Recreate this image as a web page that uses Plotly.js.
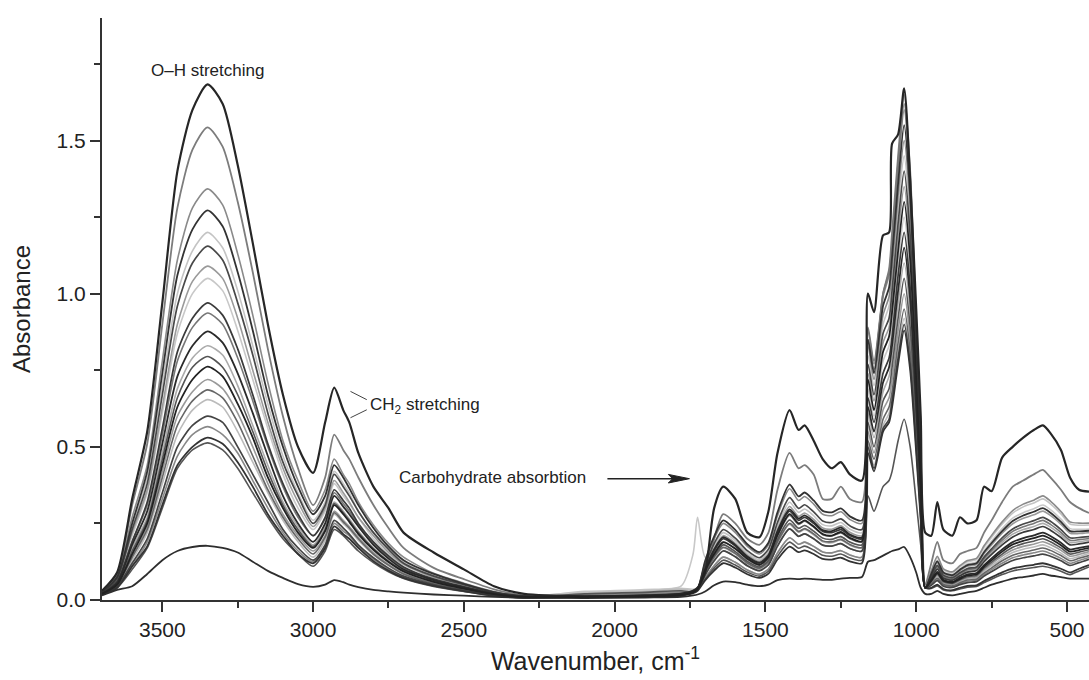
<!DOCTYPE html>
<html>
<head>
<meta charset="utf-8">
<script src="https://cdn.plot.ly/plotly-3.0.1.min.js"></script>
<style>html,body{margin:0;padding:0;background:#fff;}#chart{width:1089px;height:680px;}</style>
</head>
<body>
<div id="chart"></div>
<script>
// Wavenumber grid (cm-1)
const wavenumber = [3700,3650,3600,3550,3500,3450,3400,3350,3300,3250,3200,3150,3100,3050,3000,
  2960,2930,2900,2880,2850,2800,2750,2700,2600,2500,2400,2300,
  2100,1900,1780,
  1740,1725,1700,1670,1640,1600,1560,1520,1490,1460,1420,1390,1370,1340,1310,1280,1250,1220,1180,
  1160,1140,1110,1090,1080,1060,1040,1020,1000,985,970,950,930,910,880,855,830,800,775,750,715,680,645,610,580,555,520,490,460,427];

// Absorbance spectra
const s01 = [0.03,0.09,0.33,0.55,0.97,1.40,1.60,1.683,1.62,1.42,1.165,0.90,0.67,0.50,0.415,
  0.58,0.693,0.62,0.58,0.48,0.37,0.30,0.22,0.155,0.10,0.045,0.02,
  0.012,0.015,0.02,
  0.03,0.04,0.09,0.30,0.37,0.33,0.22,0.205,0.29,0.48,0.62,0.555,0.57,0.52,0.46,0.43,0.45,0.41,0.39,
  1.00,0.94,1.19,1.20,1.49,1.52,1.67,1.37,0.95,0.60,0.22,0.21,0.32,0.23,0.21,0.27,0.25,0.26,0.37,0.355,0.465,0.50,0.53,0.555,0.57,0.545,0.49,0.40,0.36,0.354];
const s02 = [0.03,0.085,0.31,0.51,0.90,1.28,1.47,1.543,1.48,1.30,1.07,0.82,0.60,0.43,0.31,
  0.40,0.54,0.49,0.46,0.40,0.31,0.235,0.17,0.105,0.068,0.035,0.015,
  0.012,0.016,0.022,
  0.03,0.04,0.08,0.20,0.28,0.25,0.20,0.18,0.22,0.36,0.48,0.43,0.44,0.41,0.33,0.33,0.37,0.33,0.32,
  0.85,0.75,1.00,1.08,1.20,1.45,1.65,1.40,0.90,0.50,0.05,0.12,0.19,0.13,0.12,0.15,0.16,0.17,0.22,0.26,0.32,0.37,0.39,0.41,0.425,0.40,0.36,0.32,0.30,0.284];
const s03 = [0.025,0.08,0.27,0.44,0.78,1.11,1.28,1.342,1.29,1.13,0.93,0.71,0.52,0.39,0.29,
  0.36,0.46,0.41,0.38,0.32,0.245,0.185,0.14,0.087,0.055,0.028,0.014,
  0.014,0.018,0.025,
  0.025,0.035,0.123,0.20,0.25,0.22,0.175,0.15,0.18,0.275,0.363,0.325,0.338,0.313,0.28,0.275,0.288,0.263,0.25,
  0.88,0.77,0.99,1.06,1.15,1.41,1.60,1.36,0.88,0.48,0.04,0.095,0.143,0.102,0.092,0.112,0.129,0.136,0.177,0.211,0.255,0.292,0.313,0.326,0.34,0.323,0.289,0.255,0.251,0.251];
const s04 = [0.025,0.075,0.25,0.42,0.74,1.06,1.21,1.272,1.22,1.07,0.88,0.67,0.50,0.37,0.28,
  0.34,0.44,0.40,0.365,0.31,0.235,0.175,0.13,0.085,0.053,0.026,0.013,
  0.01,0.013,0.018,
  0.025,0.035,0.127,0.208,0.26,0.229,0.182,0.156,0.187,0.286,0.377,0.338,0.351,0.325,0.291,0.286,0.299,0.273,0.26,
  0.85,0.74,0.96,1.02,1.12,1.36,1.55,1.32,0.85,0.47,0.04,0.085,0.126,0.09,0.081,0.099,0.114,0.12,0.156,0.186,0.225,0.258,0.276,0.288,0.30,0.285,0.255,0.225,0.224,0.226];
const s05 = [0.025,0.075,0.24,0.40,0.70,1.00,1.14,1.20,1.15,1.01,0.83,0.64,0.47,0.35,0.26,
  0.32,0.42,0.38,0.35,0.29,0.22,0.17,0.125,0.08,0.05,0.025,0.013,
  0.025,0.03,0.038,
  0.035,0.04,0.109,0.176,0.22,0.194,0.154,0.132,0.158,0.242,0.319,0.286,0.297,0.275,0.246,0.242,0.253,0.231,0.22,
  0.80,0.70,0.90,0.96,1.04,1.28,1.45,1.23,0.80,0.44,0.04,0.093,0.139,0.099,0.089,0.109,0.125,0.132,0.172,0.205,0.248,0.284,0.304,0.317,0.33,0.314,0.281,0.248,0.244,0.245];
const s06 = [0.02,0.07,0.23,0.38,0.67,0.96,1.10,1.155,1.11,0.97,0.80,0.61,0.45,0.34,0.25,
  0.31,0.41,0.37,0.34,0.29,0.22,0.165,0.12,0.078,0.05,0.025,0.012,
  0.012,0.014,0.02,
  0.025,0.035,0.114,0.184,0.23,0.202,0.161,0.138,0.166,0.253,0.334,0.299,0.311,0.288,0.258,0.253,0.265,0.242,0.23,
  0.77,0.67,0.87,0.92,1.01,1.23,1.40,1.19,0.77,0.42,0.04,0.078,0.113,0.081,0.073,0.089,0.103,0.108,0.14,0.167,0.203,0.232,0.248,0.259,0.27,0.257,0.23,0.203,0.204,0.207];
const s07 = [0.02,0.07,0.22,0.36,0.63,0.90,1.04,1.09,1.05,0.92,0.75,0.58,0.43,0.32,0.24,
  0.30,0.39,0.35,0.32,0.27,0.21,0.156,0.117,0.074,0.047,0.023,0.012,
  0.015,0.018,0.024,
  0.025,0.035,0.105,0.168,0.21,0.185,0.147,0.126,0.151,0.231,0.305,0.273,0.284,0.263,0.235,0.231,0.242,0.221,0.21,
  0.74,0.65,0.84,0.89,0.97,1.19,1.35,1.15,0.74,0.41,0.04,0.083,0.122,0.087,0.078,0.096,0.11,0.116,0.151,0.18,0.218,0.249,0.267,0.278,0.29,0.276,0.247,0.218,0.217,0.22];
const s08 = [0.02,0.065,0.21,0.35,0.61,0.87,1.00,1.05,1.01,0.88,0.72,0.56,0.41,0.30,0.23,
  0.29,0.38,0.34,0.315,0.27,0.20,0.15,0.115,0.072,0.046,0.023,0.011,
  0.028,0.034,0.045,
  0.15,0.27,0.14,0.144,0.18,0.158,0.126,0.108,0.13,0.198,0.261,0.234,0.243,0.225,0.202,0.198,0.207,0.189,0.18,
  0.69,0.60,0.78,0.83,0.90,1.10,1.25,1.06,0.69,0.38,0.04,0.088,0.13,0.093,0.084,0.102,0.118,0.124,0.161,0.192,0.233,0.267,0.285,0.298,0.31,0.295,0.264,0.233,0.231,0.232];
const s09 = [0.02,0.06,0.19,0.32,0.56,0.81,0.92,0.97,0.93,0.82,0.67,0.51,0.38,0.28,0.21,
  0.27,0.36,0.325,0.30,0.25,0.19,0.144,0.108,0.068,0.043,0.022,0.011,
  0.01,0.012,0.016,
  0.025,0.035,0.10,0.16,0.20,0.176,0.14,0.12,0.144,0.22,0.29,0.26,0.27,0.25,0.224,0.22,0.23,0.21,0.20,
  0.66,0.58,0.74,0.79,0.86,1.06,1.20,1.02,0.66,0.36,0.04,0.07,0.101,0.072,0.065,0.079,0.091,0.096,0.125,0.149,0.18,0.206,0.221,0.23,0.24,0.228,0.204,0.18,0.183,0.189];
const s10 = [0.02,0.06,0.19,0.31,0.54,0.78,0.89,0.937,0.90,0.79,0.65,0.50,0.37,0.27,0.21,
  0.265,0.35,0.315,0.29,0.245,0.185,0.14,0.105,0.067,0.042,0.021,0.01,
  0.013,0.016,0.022,
  0.025,0.035,0.096,0.152,0.19,0.167,0.133,0.114,0.137,0.209,0.276,0.247,0.257,0.238,0.213,0.209,0.219,0.20,0.19,
  0.89,0.78,1.00,1.07,1.17,1.43,1.62,1.38,0.89,0.49,0.04,0.075,0.109,0.078,0.07,0.086,0.099,0.104,0.135,0.161,0.195,0.224,0.239,0.25,0.26,0.247,0.221,0.195,0.197,0.201];
const s11 = [0.02,0.055,0.18,0.29,0.51,0.73,0.83,0.877,0.84,0.74,0.61,0.47,0.34,0.25,0.19,
  0.25,0.34,0.305,0.28,0.24,0.18,0.135,0.10,0.065,0.041,0.02,0.01,
  0.01,0.012,0.016,
  0.025,0.035,0.10,0.165,0.205,0.18,0.142,0.122,0.146,0.225,0.296,0.266,0.276,0.255,0.228,0.225,0.236,0.214,0.204,
  0.63,0.55,0.71,0.76,0.83,1.01,1.15,0.98,0.63,0.35,0.04,0.065,0.092,0.066,0.059,0.073,0.084,0.088,0.114,0.136,0.165,0.189,0.202,0.211,0.22,0.209,0.187,0.165,0.17,0.176];
const s12 = [0.02,0.055,0.17,0.27,0.48,0.69,0.79,0.83,0.80,0.70,0.57,0.44,0.32,0.24,0.18,
  0.24,0.32,0.29,0.265,0.225,0.17,0.128,0.096,0.061,0.038,0.019,0.01,
  0.018,0.022,0.03,
  0.025,0.035,0.087,0.136,0.17,0.15,0.119,0.102,0.122,0.187,0.247,0.221,0.23,0.213,0.19,0.187,0.196,0.179,0.17,
  0.61,0.53,0.68,0.73,0.79,0.97,1.10,0.94,0.61,0.33,0.04,0.073,0.105,0.075,0.068,0.083,0.095,0.10,0.13,0.155,0.188,0.215,0.23,0.24,0.25,0.238,0.213,0.188,0.19,0.195];
const s13 = [0.02,0.05,0.16,0.26,0.46,0.66,0.76,0.795,0.76,0.67,0.55,0.42,0.31,0.23,0.175,
  0.23,0.315,0.285,0.26,0.22,0.167,0.126,0.095,0.06,0.038,0.019,0.01,
  0.011,0.013,0.018,
  0.025,0.035,0.091,0.144,0.18,0.158,0.126,0.108,0.13,0.198,0.261,0.234,0.243,0.225,0.202,0.198,0.207,0.189,0.18,
  0.58,0.50,0.65,0.69,0.76,0.92,1.05,0.89,0.58,0.32,0.04,0.06,0.084,0.06,0.054,0.066,0.076,0.08,0.104,0.124,0.15,0.172,0.184,0.192,0.20,0.19,0.17,0.15,0.156,0.164];
const s14 = [0.02,0.05,0.15,0.25,0.44,0.63,0.72,0.762,0.73,0.64,0.53,0.40,0.30,0.22,0.17,
  0.225,0.31,0.28,0.255,0.215,0.164,0.124,0.093,0.059,0.037,0.019,0.01,
  0.01,0.012,0.016,
  0.025,0.035,0.095,0.15,0.188,0.168,0.135,0.115,0.14,0.212,0.28,0.25,0.26,0.24,0.215,0.21,0.222,0.203,0.192,
  0.72,0.62,0.81,0.86,0.94,1.14,1.30,1.11,0.72,0.39,0.04,0.063,0.088,0.063,0.057,0.069,0.08,0.084,0.109,0.13,0.158,0.181,0.193,0.202,0.21,0.20,0.179,0.158,0.163,0.17];
const s15 = [0.02,0.05,0.14,0.24,0.42,0.60,0.68,0.72,0.69,0.61,0.50,0.38,0.28,0.21,0.16,
  0.21,0.29,0.26,0.24,0.205,0.155,0.116,0.087,0.055,0.035,0.017,0.009,
  0.015,0.018,0.024,
  0.025,0.035,0.082,0.128,0.16,0.141,0.112,0.096,0.115,0.176,0.232,0.208,0.216,0.20,0.179,0.176,0.184,0.168,0.16,
  0.55,0.48,0.62,0.66,0.72,0.88,1.00,0.85,0.55,0.30,0.04,0.058,0.08,0.057,0.051,0.063,0.072,0.076,0.099,0.118,0.143,0.163,0.175,0.182,0.19,0.181,0.162,0.143,0.149,0.158];
const s16 = [0.02,0.05,0.14,0.23,0.40,0.57,0.65,0.686,0.66,0.58,0.47,0.36,0.27,0.20,0.15,
  0.205,0.285,0.255,0.235,0.20,0.15,0.114,0.085,0.054,0.034,0.017,0.009,
  0.012,0.014,0.019,
  0.025,0.035,0.088,0.14,0.172,0.152,0.121,0.104,0.125,0.19,0.25,0.224,0.233,0.216,0.193,0.19,0.198,0.181,0.172,
  0.52,0.46,0.59,0.63,0.68,0.84,0.95,0.81,0.52,0.29,0.04,0.053,0.071,0.051,0.046,0.056,0.065,0.068,0.088,0.105,0.128,0.146,0.156,0.163,0.17,0.162,0.145,0.128,0.136,0.145];
const s17 = [0.02,0.045,0.13,0.22,0.38,0.54,0.62,0.654,0.63,0.55,0.45,0.35,0.26,0.19,0.14,
  0.195,0.28,0.25,0.23,0.195,0.148,0.112,0.084,0.053,0.034,0.017,0.008,
  0.022,0.027,0.035,
  0.03,0.038,0.073,0.112,0.14,0.123,0.098,0.084,0.101,0.154,0.203,0.182,0.189,0.175,0.157,0.154,0.161,0.147,0.14,
  0.51,0.44,0.57,0.61,0.66,0.81,0.92,0.78,0.51,0.28,0.04,0.055,0.076,0.054,0.049,0.059,0.068,0.072,0.094,0.112,0.135,0.155,0.166,0.173,0.18,0.171,0.153,0.135,0.142,0.152];
const s18 = [0.02,0.045,0.12,0.20,0.35,0.50,0.57,0.60,0.58,0.50,0.41,0.32,0.23,0.17,0.13,
  0.18,0.26,0.235,0.215,0.18,0.138,0.104,0.078,0.05,0.031,0.016,0.008,
  0.01,0.012,0.016,
  0.025,0.035,0.082,0.128,0.16,0.141,0.112,0.096,0.115,0.176,0.232,0.208,0.216,0.20,0.179,0.176,0.184,0.168,0.16,
  0.50,0.43,0.56,0.59,0.65,0.79,0.90,0.77,0.50,0.27,0.04,0.048,0.063,0.045,0.041,0.05,0.057,0.06,0.078,0.093,0.113,0.129,0.138,0.144,0.15,0.143,0.128,0.113,0.122,0.133];
const s19 = [0.02,0.04,0.11,0.19,0.33,0.47,0.54,0.566,0.54,0.48,0.39,0.30,0.22,0.16,0.125,
  0.175,0.25,0.225,0.21,0.175,0.133,0.10,0.075,0.048,0.03,0.015,0.008,
  0.016,0.02,0.026,
  0.025,0.035,0.073,0.112,0.14,0.123,0.098,0.084,0.101,0.154,0.203,0.182,0.189,0.175,0.157,0.154,0.161,0.147,0.14,
  0.83,0.72,0.93,0.99,1.08,1.32,1.50,1.28,0.83,0.45,0.04,0.05,0.067,0.048,0.043,0.053,0.061,0.064,0.083,0.099,0.12,0.138,0.147,0.154,0.16,0.152,0.136,0.12,0.129,0.139];
const s20 = [0.02,0.04,0.11,0.175,0.31,0.44,0.50,0.53,0.51,0.45,0.37,0.28,0.21,0.15,0.12,
  0.17,0.24,0.215,0.20,0.17,0.127,0.096,0.072,0.046,0.029,0.014,0.007,
  0.01,0.012,0.015,
  0.022,0.03,0.064,0.096,0.12,0.106,0.084,0.072,0.086,0.132,0.174,0.156,0.162,0.15,0.134,0.132,0.138,0.126,0.12,
  0.48,0.42,0.55,0.58,0.63,0.77,0.88,0.75,0.48,0.26,0.04,0.04,0.05,0.036,0.032,0.04,0.046,0.048,0.062,0.074,0.09,0.103,0.11,0.115,0.12,0.114,0.102,0.09,0.102,0.114];
const s21 = [0.02,0.04,0.10,0.17,0.30,0.43,0.49,0.513,0.49,0.43,0.35,0.27,0.20,0.15,0.11,
  0.16,0.23,0.21,0.19,0.16,0.122,0.092,0.07,0.044,0.028,0.014,0.007,
  0.02,0.025,0.03,
  0.025,0.035,0.068,0.104,0.13,0.114,0.091,0.078,0.094,0.143,0.189,0.169,0.176,0.163,0.146,0.143,0.15,0.137,0.13,
  0.34,0.29,0.37,0.39,0.42,0.52,0.59,0.50,0.32,0.18,0.04,0.038,0.046,0.033,0.03,0.036,0.042,0.044,0.057,0.068,0.083,0.095,0.101,0.106,0.11,0.105,0.094,0.083,0.095,0.108];
const s22 = [0.015,0.033,0.045,0.085,0.13,0.16,0.173,0.177,0.17,0.155,0.125,0.095,0.072,0.052,0.043,
  0.05,0.065,0.058,0.05,0.042,0.033,0.028,0.024,0.018,0.014,0.01,0.008,
  0.006,0.008,0.01,
  0.015,0.018,0.028,0.048,0.06,0.058,0.05,0.045,0.05,0.065,0.07,0.068,0.07,0.068,0.066,0.066,0.07,0.072,0.075,
  0.125,0.13,0.145,0.155,0.16,0.165,0.173,0.14,0.09,0.04,0.02,0.02,0.03,0.02,0.015,0.02,0.025,0.03,0.04,0.05,0.06,0.07,0.075,0.08,0.085,0.08,0.075,0.07,0.07,0.07];

const spectra = [s01,s02,s03,s04,s05,s06,s07,s08,s09,s10,s11,s12,s13,s14,s15,s16,s17,s18,s19,s20,s21,s22];
const lineColors = ['#262626','#7c7c7c','#8a8a8a','#333333','#c4c4c4','#484848','#9a9a9a','#c8c8c8','#3a3a3a','#777777','#2a2a2a','#ababab','#555555','#222222','#999999','#666666','#bbbbbb','#444444','#888888','#333333','#555555','#2e2e2e'];
const lineWidths = [2.2,1.8,1.6,1.8,1.6,1.7,1.6,1.6,1.7,1.6,1.8,1.6,1.6,1.8,1.6,1.6,1.6,1.7,1.6,1.8,1.6,1.8];

const traces = spectra.map((ys, i) => ({
  type: 'scatter', mode: 'lines', x: wavenumber, y: ys,
  line: {color: lineColors[i], width: lineWidths[i], shape: 'spline', smoothing: 0.7},
  hoverinfo: 'skip', showlegend: false
}));
// draw lighter lines first so darker ones sit on top
traces.sort((a, b) => parseInt(b.line.color.slice(1,3),16) - parseInt(a.line.color.slice(1,3),16));

const fontFam = 'Liberation Sans, Arial, Helvetica, sans-serif';
const layout = {
  width: 1089, height: 680,
  margin: {l: 102, r: 0, t: 18, b: 80},
  paper_bgcolor: '#ffffff', plot_bgcolor: '#ffffff',
  font: {family: fontFam, color: '#222'},
  xaxis: {
    range: [3700, 427], autorange: false,
    tick0: 0, dtick: 500, ticks: 'outside', ticklen: 10, tickwidth: 2, tickcolor: '#333',
    showline: true, linewidth: 2, linecolor: '#333', showgrid: false, zeroline: false,
    tickfont: {family: fontFam, size: 21, color: '#222'},
    minor: {ticks: 'outside', ticklen: 6, tickwidth: 2, tickcolor: '#333', dtick: 250, showgrid: false},
    title: {text: 'Wavenumber, cm<sup>-1</sup>', font: {family: fontFam, size: 25, color: '#222'}, standoff: 12}
  },
  yaxis: {
    range: [0, 1.9], autorange: false,
    tick0: 0, dtick: 0.5, tickformat: '.1f', ticks: 'outside', ticklen: 10, tickwidth: 2, tickcolor: '#333',
    showline: true, linewidth: 2, linecolor: '#333', showgrid: false, zeroline: false,
    tickfont: {family: fontFam, size: 21, color: '#222'},
    minor: {ticks: 'outside', ticklen: 6, tickwidth: 2, tickcolor: '#333', dtick: 0.25, showgrid: false},
    title: {text: 'Absorbance', font: {family: fontFam, size: 24, color: '#222'}, standoff: 19}
  },
  annotations: [
    {x: 3350, y: 1.729, xref: 'x', yref: 'y', text: 'O–H stretching', showarrow: false,
     font: {family: fontFam, size: 17, color: '#222'}, xanchor: 'center', yanchor: 'middle'},
    {x: 2818, y: 0.632, xref: 'x', yref: 'y', text: 'CH<sub>2</sub> stretching', showarrow: false,
     font: {family: fontFam, size: 17, color: '#222'}, xanchor: 'left', yanchor: 'middle'},
    {x: 2721, y: 0.399, xref: 'x', yref: 'y', text: 'Carbohydrate absorbtion', showarrow: false,
     font: {family: fontFam, size: 17, color: '#222'}, xanchor: 'left', yanchor: 'middle'}
  ],
  shapes: [
    {type: 'line', xref: 'x', yref: 'y', x0: 2876, y0: 0.681, x1: 2822, y1: 0.654, line: {color: '#444', width: 1}},
    {type: 'line', xref: 'x', yref: 'y', x0: 2876, y0: 0.595, x1: 2822, y1: 0.621, line: {color: '#444', width: 1}},
    {type: 'line', xref: 'x', yref: 'y', x0: 2024, y0: 0.396, x1: 1800, y1: 0.396, line: {color: '#222', width: 1.6}},
    {type: 'path', xref: 'x', yref: 'y', path: 'M 1752 0.396 L 1822 0.410 L 1808 0.396 L 1822 0.382 Z',
     fillcolor: '#222', line: {color: '#222', width: 1}}
  ]
};

Plotly.newPlot('chart', traces, layout, {staticPlot: true, displayModeBar: false});
</script>
</body>
</html>
